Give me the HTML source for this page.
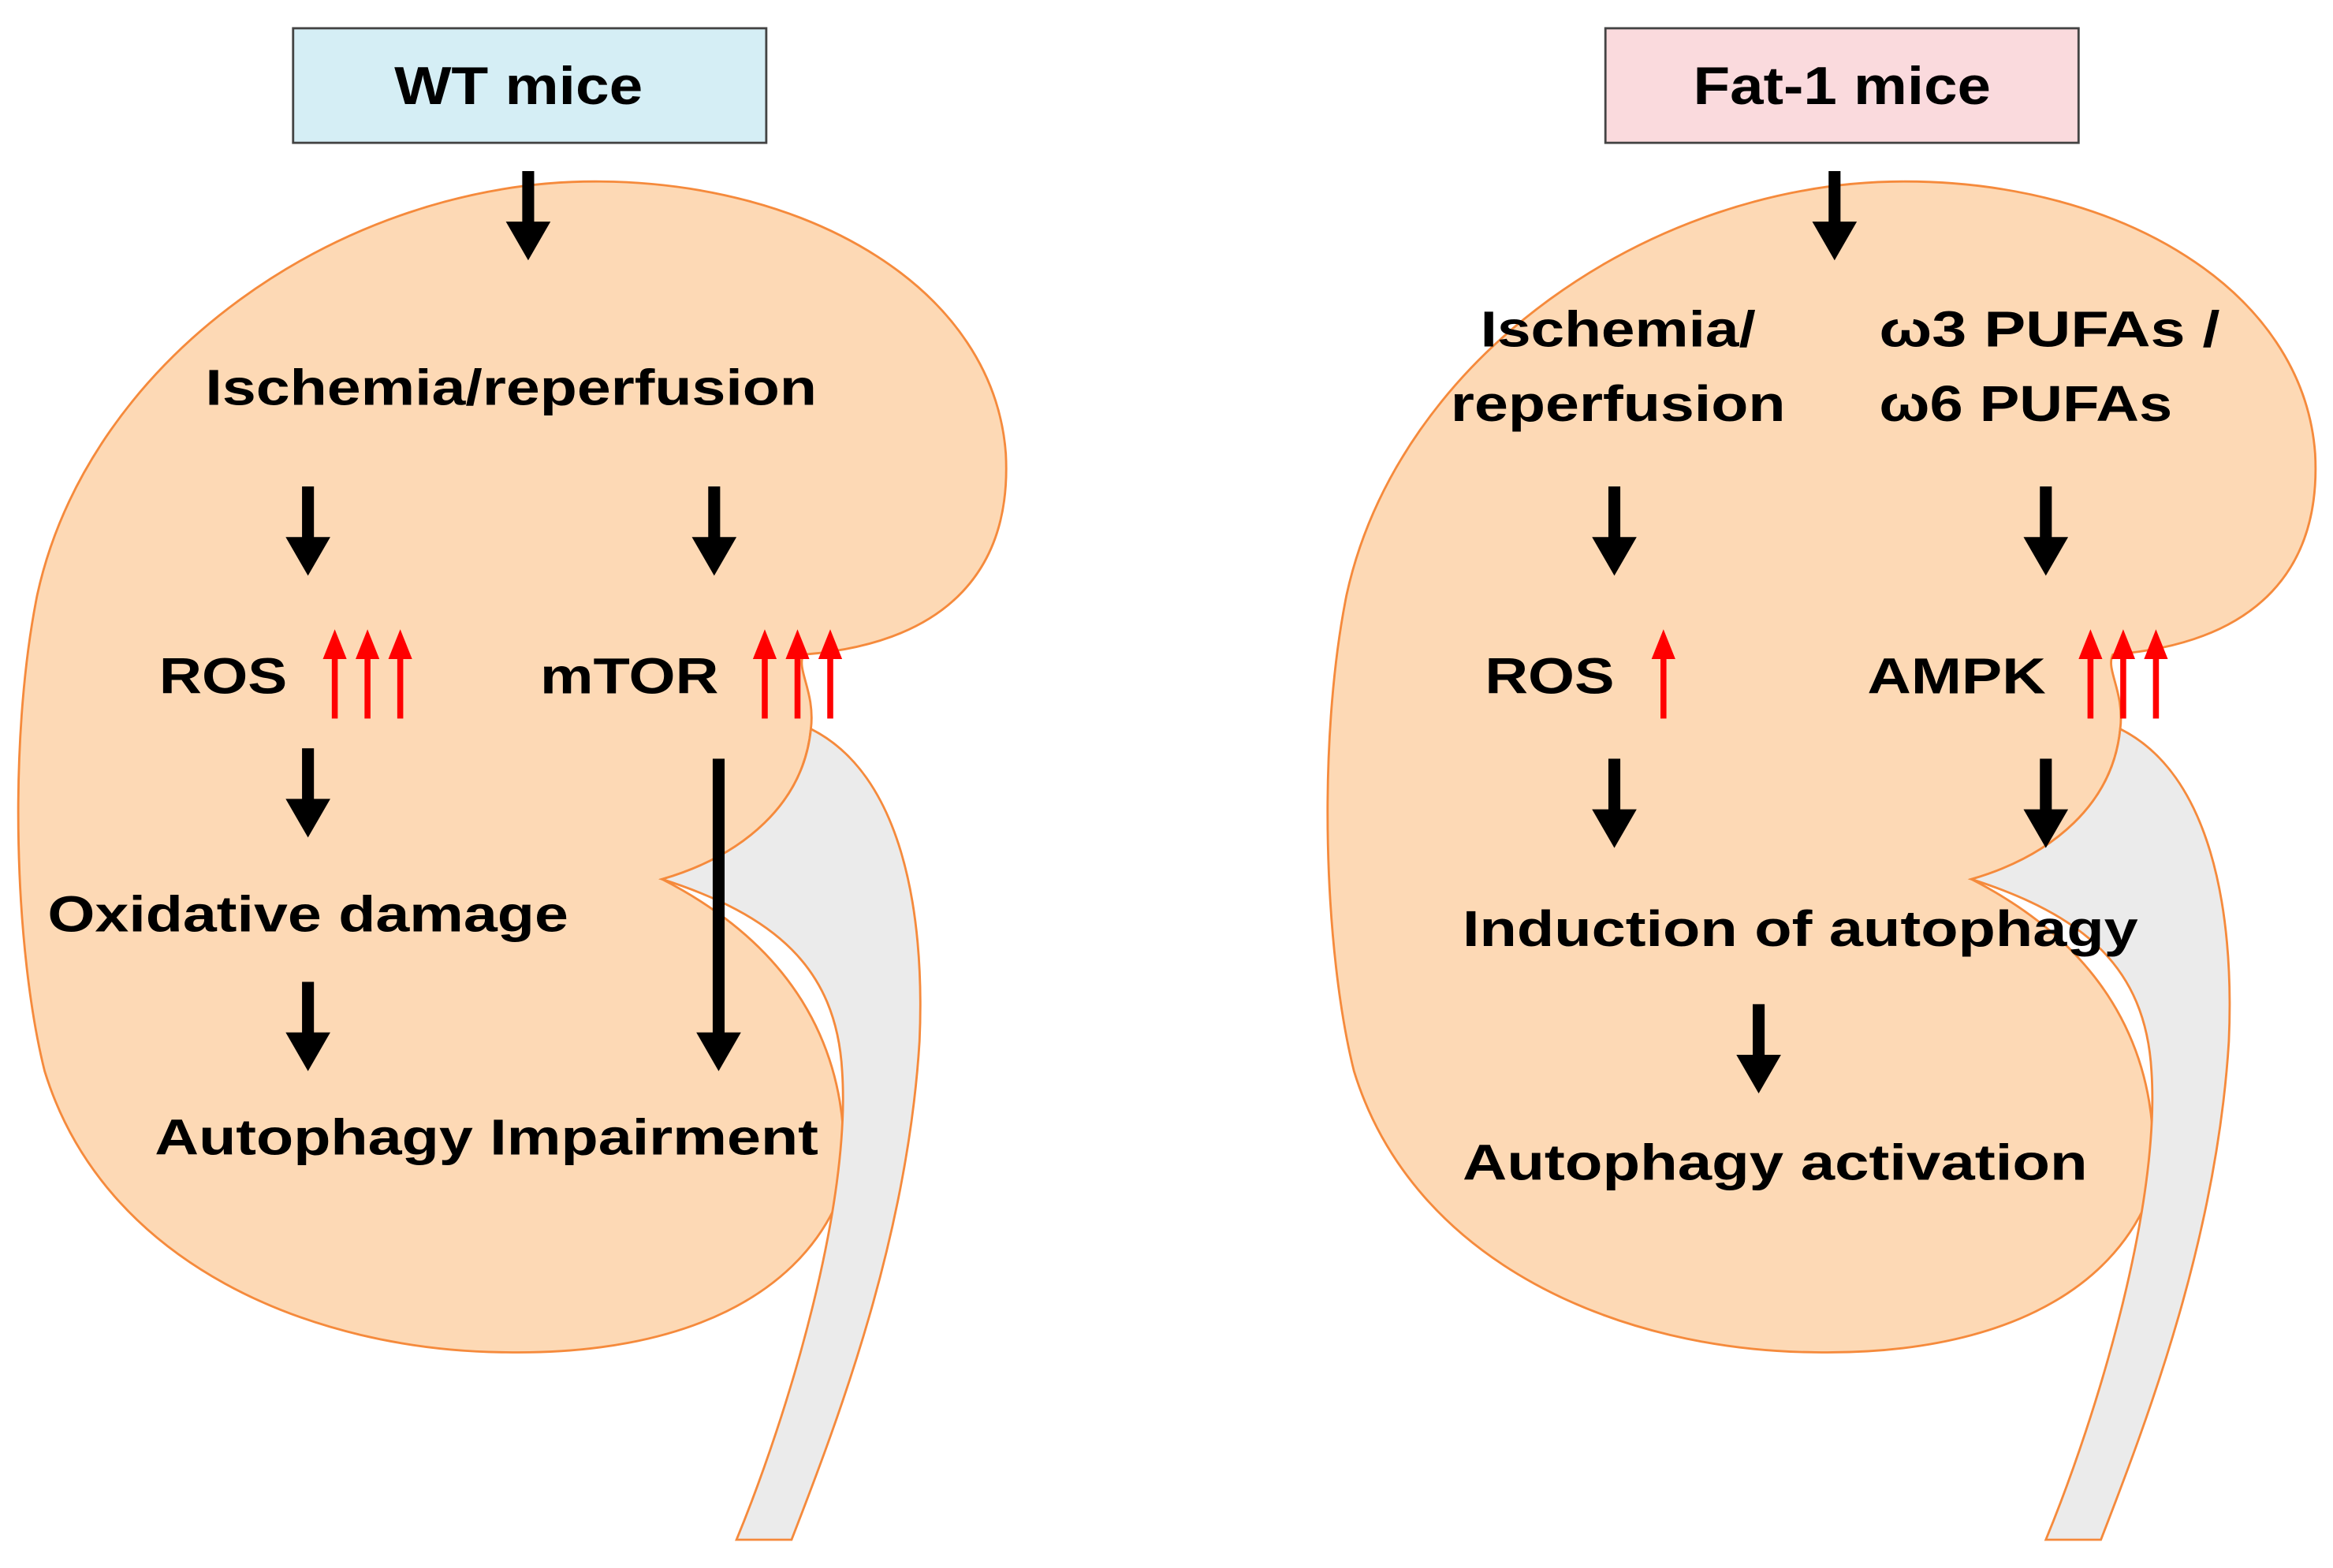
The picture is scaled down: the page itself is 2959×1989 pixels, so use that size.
<!DOCTYPE html>
<html><head><meta charset="utf-8">
<style>html,body{margin:0;padding:0;background:#fff;}svg{display:block}</style>
</head><body>
<svg width="2959" height="1989" viewBox="0 0 1568 1054" preserveAspectRatio="none" xmlns="http://www.w3.org/2000/svg">
<defs>
<g id="kid">
<path d="M540,440 C640,432 680,380 676,305 C668,195 545,122 400,122 C230,122 60,240 25,400 C5,500 10,640 30,720 C70,850 210,908 340,909 C460,911 540,870 566,800 C572,740 560,650 445,591 C500,575 540,540 545,490 C548,465 535,450 540,440 Z" fill="#fdd9b5" stroke="#f58a3c" stroke-width="1.5"/>
<path d="M545,490 C605,520 622,610 618,700 C610,830 565,950 532,1035 L495,1035 C530,950 572,810 566,720 C562,650 520,615 445,591 C500,575 540,540 545,490 Z" fill="#ebebeb" stroke="#f58a3c" stroke-width="1.5"/>
</g>
<g id="ba"><rect x="-4" y="0" width="8" height="36" fill="#000"/><polygon points="-15,34 15,34 0,60" fill="#000"/></g>
<g id="ra"><rect x="-2" y="18" width="4" height="42" fill="#f00"/><polygon points="-8,20 8,20 0,0" fill="#f00"/></g>
</defs>
<rect x="197" y="19" width="318" height="77" fill="#d5eef5" stroke="#444" stroke-width="1.5"/>
<rect x="1079" y="19" width="318" height="77" fill="#fadadd" stroke="#444" stroke-width="1.5"/>
<use href="#kid"/>
<use href="#kid" transform="translate(880,0)"/>
<g font-family="Liberation Sans, sans-serif" font-weight="bold" font-size="34" fill="#000">
<text x="265" y="70" textLength="167" lengthAdjust="spacingAndGlyphs" font-size="36">WT mice</text>
<text x="1138" y="70" textLength="200" lengthAdjust="spacingAndGlyphs" font-size="36">Fat-1 mice</text>
<text x="138" y="272" textLength="411" lengthAdjust="spacingAndGlyphs">Ischemia/reperfusion</text>
<text x="107" y="466" textLength="86" lengthAdjust="spacingAndGlyphs">ROS</text>
<text x="363" y="466" textLength="120" lengthAdjust="spacingAndGlyphs">mTOR</text>
<text x="32" y="626" textLength="350" lengthAdjust="spacingAndGlyphs">Oxidative damage</text>
<text x="104" y="776" textLength="446" lengthAdjust="spacingAndGlyphs">Autophagy  Impairment</text>
<text x="995" y="233" textLength="185" lengthAdjust="spacingAndGlyphs">Ischemia/</text>
<text x="975" y="283" textLength="225" lengthAdjust="spacingAndGlyphs">reperfusion</text>
<text x="1263" y="233" textLength="229" lengthAdjust="spacingAndGlyphs">ω3  PUFAs /</text>
<text x="1263" y="283" textLength="197" lengthAdjust="spacingAndGlyphs">ω6  PUFAs</text>
<text x="998" y="466" textLength="87" lengthAdjust="spacingAndGlyphs">ROS</text>
<text x="1255" y="466" textLength="120" lengthAdjust="spacingAndGlyphs">AMPK</text>
<text x="983" y="636" textLength="454" lengthAdjust="spacingAndGlyphs">Induction  of  autophagy</text>
<text x="983" y="793" textLength="420" lengthAdjust="spacingAndGlyphs">Autophagy  activation</text>
</g>
<use href="#ba" x="355" y="115"/>
<use href="#ba" x="207" y="327"/>
<use href="#ba" x="480" y="327"/>
<use href="#ba" x="207" y="503"/>
<use href="#ba" x="207" y="660"/>
<rect x="479" y="510" width="8" height="186" fill="#000"/><polygon points="468,694 498,694 483,720" fill="#000"/>
<use href="#ba" x="1233" y="115"/>
<use href="#ba" x="1085" y="327"/>
<use href="#ba" x="1375" y="327"/>
<use href="#ba" x="1085" y="510"/>
<use href="#ba" x="1375" y="510"/>
<use href="#ba" x="1182" y="675"/>
<use href="#ra" x="225" y="423"/><use href="#ra" x="247" y="423"/><use href="#ra" x="269" y="423"/>
<use href="#ra" x="514" y="423"/><use href="#ra" x="536" y="423"/><use href="#ra" x="558" y="423"/>
<use href="#ra" x="1118" y="423"/>
<use href="#ra" x="1405" y="423"/><use href="#ra" x="1427" y="423"/><use href="#ra" x="1449" y="423"/>
</svg>
</body></html>
